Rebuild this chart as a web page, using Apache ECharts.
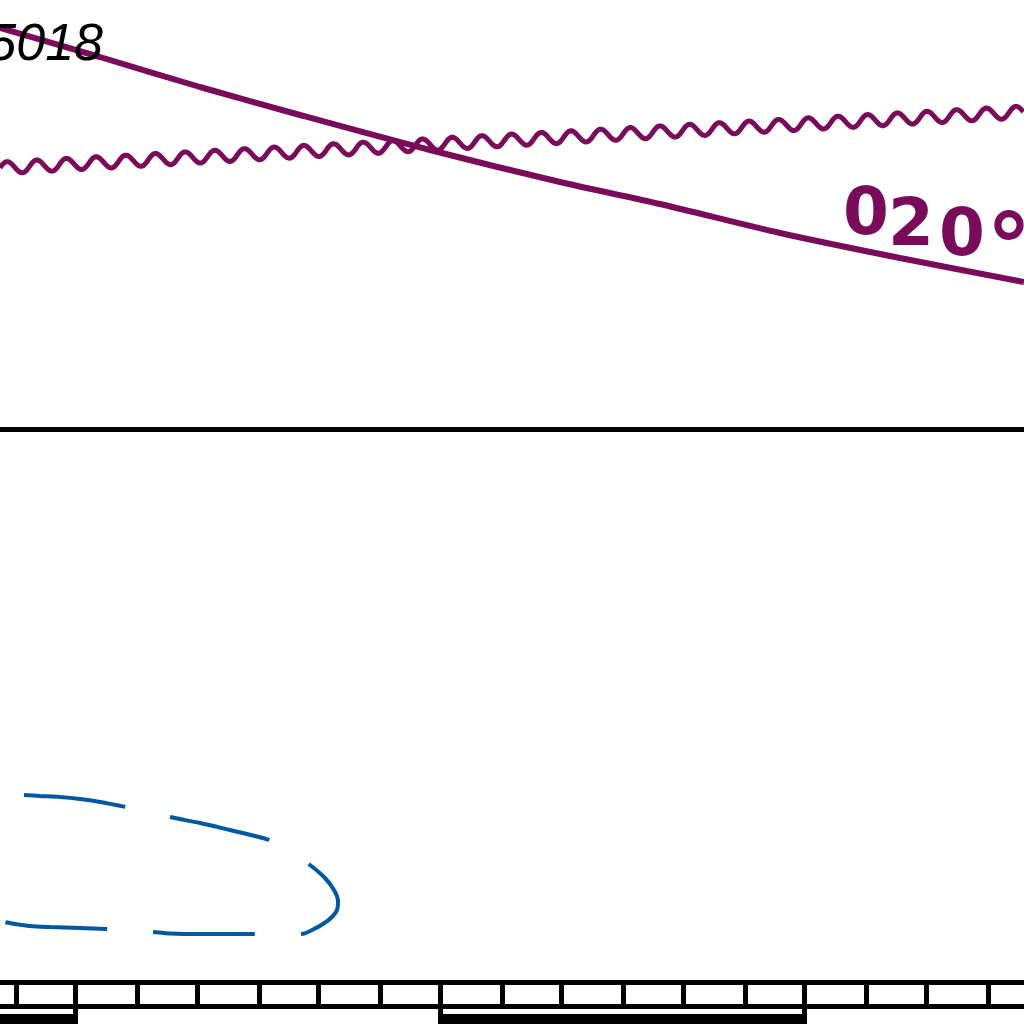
<!DOCTYPE html>
<html lang="en">
<head>
    <meta charset="UTF-8">
    <title>Chart fragment</title>
    <script type="text/javascript" src="https://cdn.jsdelivr.net/npm/echarts@6/dist/echarts.min.js"></script>
    <style>
        html, body { margin: 0; padding: 0; background: #ffffff; }
    </style>
</head>
<body>
<div id="main" style="width:1024px;height:1024px;"></div>
</body>

<script>
    // map is in plain sheet units, 0..1024 both ways, y going down
    // airway centre line (straight purple)
    const airwayPts = [[0, 28], [100, 57], [200, 87], [300, 115], [430, 150], [560, 182],
        [660, 204], [780, 233], [900, 258], [1024, 282]];
    // wavy boundary, start and end
    const wavyEnds = [[0, 168, 1024, 112]];
    // black line across the sheet
    const blackLine = [[0, 429.5], [1024, 429.5]];
    // blue dashed outline
    const blueOutline = [[24, 795], [40, 796], [60, 797], [80, 799], [100, 802], [126, 807],
        [150, 812], [170, 817], [200, 823], [230, 830], [255, 836], [269, 840], [290, 851],
        [310, 865], [325, 878], [334, 890], [338, 901], [337, 910], [332, 917], [323, 924],
        [312, 930], [302, 934], [280, 934.5], [253, 934], [200, 934], [170, 933.5], [153, 932],
        [130, 930], [107, 929], [80, 928], [50, 927], [30, 926], [15, 924], [4, 922]];
    // scale bar
    const scaleTop = [[0, 982.5], [1024, 982.5]];
    const scaleBottom = [[0, 1006.5], [1024, 1006.5]];
    const scaleTicks = [16.5, 75.5, 137.5, 197.5, 259.5, 318.5, 380.5, 440.5, 502.5,
        561.5, 623.5, 683.5, 745.5, 804.5, 866.5, 926.5, 988.5];
    const scaleBars = [[-10, 78], [438, 807]];
    // labels
    const fixName = '5018';
    const fixAt = [103, 46];
    // course label, letters stepped down along the airway
    const courseChars = ['0', '2', '0', '°'];
    const courseAt = [[866, 217], [911, 228], [962, 238], [1009, 256]];

    const purple = '#7a0b5b';
    const blue = '#0057a3';

    let myChart = echarts.init(document.getElementById('main'));

    //wavy line drawn along the straight line between ends
    function renderWave(params, api) {
        const p0 = api.coord([api.value(0), api.value(1)]);
        const p1 = api.coord([api.value(2), api.value(3)]);
        const dx = p1[0] - p0[0], dy = p1[1] - p0[1];
        const len = Math.hypot(dx, dy);
        const ux = dx / len, uy = dy / len;
        const nx = uy, ny = -ux;
        const amp = 6, period = 29.72, phase = 37;
        let pts = [];
        for (let s = 0; s <= len; s += 1) {
            let w = amp * Math.cos(2 * Math.PI * (s - phase) / period);
            pts.push([p0[0] + ux * s + nx * w, p0[1] + uy * s + ny * w]);
        }
        return {
            type: 'polyline',
            shape: {points: pts},
            style: {stroke: purple, lineWidth: 5, fill: null, lineJoin: 'round'}
        };
    }

    //ticks of the scale bar, longer ones where a bar ends
    function renderTick(params, api) {
        const x = api.value(0);
        let barEnd = scaleBars.some(b => Math.abs(b[1] - x) < 3 || Math.abs(b[0] - x) < 3);
        const top = api.coord([x, 982.5]);
        const bot = api.coord([x, barEnd ? 1016 : 1006.5]);
        return {
            type: 'rect',
            shape: {x: top[0] - 2.5, y: top[1], width: 5, height: bot[1] - top[1]},
            style: {fill: '#000'}
        };
    }

    function renderBar(params, api) {
        const a = api.coord([api.value(0), 1014]);
        const b = api.coord([api.value(1), 1030]);
        return {
            type: 'rect',
            shape: {x: a[0], y: a[1], width: b[0] - a[0], height: b[1] - a[1]},
            style: {fill: '#000'}
        };
    }

    let option = {
        animation: false,
        backgroundColor: '#ffffff',
        grid: {left: 0, right: 0, top: 0, bottom: 0},
        xAxis: {type: 'value', min: 0, max: 1024, show: false},
        yAxis: {type: 'value', min: 0, max: 1024, inverse: true, show: false},
        series: [
            {
                type: 'line', data: airwayPts, smooth: 0.3, symbol: 'none', z: 2,
                lineStyle: {color: purple, width: 6}
            },
            {
                type: 'custom', data: wavyEnds, renderItem: renderWave, z: 3
            },
            {
                type: 'line', data: blackLine, symbol: 'none', z: 2,
                lineStyle: {color: '#000', width: 5}
            },
            {
                type: 'line', data: blueOutline, smooth: 0.3, symbol: 'none', z: 2,
                lineStyle: {color: blue, width: 4, type: [102, 46], cap: 'butt'}
            },
            {
                type: 'line', data: scaleTop, symbol: 'none', z: 2,
                lineStyle: {color: '#000', width: 5}
            },
            {
                type: 'line', data: scaleBottom, symbol: 'none', z: 2,
                lineStyle: {color: '#000', width: 5}
            },
            {
                type: 'custom', data: scaleTicks.map(v => [v]), renderItem: renderTick, z: 3
            },
            {
                type: 'custom', data: scaleBars, renderItem: renderBar, z: 3
            },
            {
                type: 'scatter', data: [fixAt], symbolSize: 1, z: 5,
                itemStyle: {color: 'rgba(0,0,0,0)', opacity: 1},
                label: {
                    show: true, position: 'inside', align: 'right', verticalAlign: 'middle',
                    formatter: fixName, color: '#000', fontSize: 52, fontStyle: 'italic',
                    fontFamily: 'Liberation Sans'
                }
            },
            {
                type: 'scatter', data: courseAt, symbolSize: 1, z: 5,
                itemStyle: {color: 'rgba(0,0,0,0)', opacity: 1},
                label: {
                    show: true, position: 'inside', align: 'center', verticalAlign: 'middle',
                    formatter: p => {
                        let c = courseChars[p.dataIndex];
                        return c === '°' ? '{deg|' + c + '}' : c;
                    },
                    color: purple, fontSize: 66, fontWeight: 'bold', fontFamily: 'DejaVu Sans',
                    rich: {
                        deg: {color: purple, fontSize: 90, fontWeight: 'bold', fontFamily: 'DejaVu Sans'}
                    }
                }
            }
        ]
    };
    myChart.setOption(option);
</script>
</html>
